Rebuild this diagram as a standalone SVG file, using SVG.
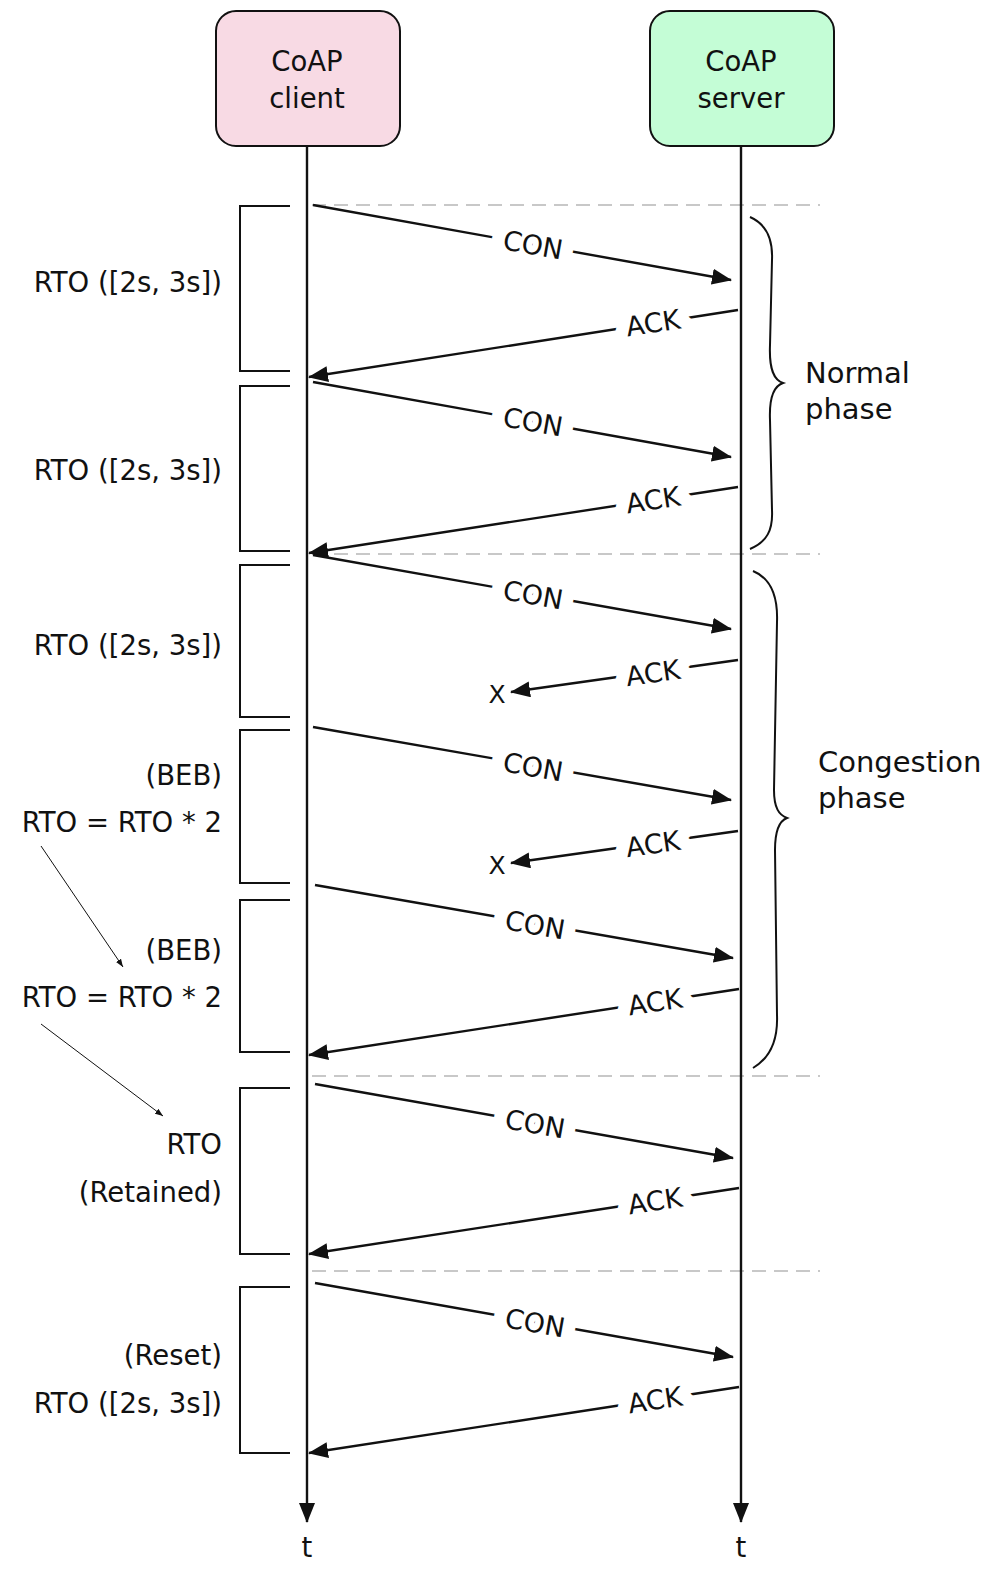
<svg xmlns="http://www.w3.org/2000/svg" width="999" height="1570" viewBox="0 0 999 1570">
<defs>
<style>
text{font-family:"DejaVu Sans","Liberation Sans",sans-serif;fill:#111;font-size:27.5px}
.box{stroke:#111;stroke-width:2}
.life{stroke:#111;stroke-width:2.4;fill:none}
.msg{stroke:#111;stroke-width:2.4;fill:none}
.thin{stroke:#111;stroke-width:1;fill:none}
.dash{stroke:#c8c8c8;stroke-width:2;stroke-dasharray:14 8;fill:none}
.brk{stroke:#111;stroke-width:2;fill:none}
.lbl{text-anchor:middle;dominant-baseline:central;stroke:#fff;stroke-width:26;stroke-linejoin:round;paint-order:stroke;font-size:27px}
.ph{font-size:29px}
.r{text-anchor:end}
.c{text-anchor:middle}
</style>
<marker id="ah" viewBox="0 0 20 16" markerWidth="20" markerHeight="16" refX="19" refY="8" orient="auto" markerUnits="userSpaceOnUse"><path d="M0,0 L20,8 L0,16 Z" fill="#111"/></marker>
<marker id="ahs" viewBox="0 0 8 6" markerWidth="8" markerHeight="6" refX="8" refY="3" orient="auto" markerUnits="userSpaceOnUse"><path d="M0,0 L8,3 L0,6 Z" fill="#111"/></marker>
</defs>
<rect width="999" height="1570" fill="#fff"/>

<g id="client">
<rect class="box" x="216" y="11" width="184" height="135" rx="20" fill="#f8dae4"/>
<text class="c" x="307" y="71">CoAP</text>
<text class="c" x="307" y="108">client</text>
</g>
<g id="server">
<rect class="box" x="650" y="11" width="184" height="135" rx="20" fill="#c4fdd6"/>
<text class="c" x="741" y="71">CoAP</text>
<text class="c" x="741" y="108">server</text>
</g>

<g id="separators">
<line class="dash" x1="312" y1="205" x2="820" y2="205"/>
<line class="dash" x1="312" y1="554" x2="820" y2="554"/>
<line class="dash" x1="312" y1="1076" x2="820" y2="1076"/>
<line class="dash" x1="312" y1="1271" x2="820" y2="1271"/>
</g>

<g id="lifelines">
<line class="life" x1="307" y1="146" x2="307" y2="1522" marker-end="url(#ah)"/>
<line class="life" x1="741" y1="146" x2="741" y2="1522" marker-end="url(#ah)"/>
<text class="c" x="307" y="1557">t</text>
<text class="c" x="741" y="1557">t</text>
</g>

<g id="connectors">
<line class="msg" x1="313" y1="205" x2="731" y2="280" marker-end="url(#ah)"/>
<line class="msg" x1="738" y1="310" x2="309" y2="377" marker-end="url(#ah)"/>
<line class="msg" x1="313" y1="382" x2="731" y2="457" marker-end="url(#ah)"/>
<line class="msg" x1="738" y1="487" x2="309" y2="553" marker-end="url(#ah)"/>
<line class="msg" x1="313" y1="555" x2="731" y2="629" marker-end="url(#ah)"/>
<line class="msg" x1="738" y1="660" x2="511" y2="692" marker-end="url(#ah)"/>
<line class="msg" x1="313" y1="727" x2="731" y2="800" marker-end="url(#ah)"/>
<line class="msg" x1="738" y1="831" x2="511" y2="863" marker-end="url(#ah)"/>
<line class="msg" x1="315" y1="885" x2="733" y2="958" marker-end="url(#ah)"/>
<line class="msg" x1="739" y1="989" x2="309" y2="1055" marker-end="url(#ah)"/>
<line class="msg" x1="315" y1="1084" x2="733" y2="1158" marker-end="url(#ah)"/>
<line class="msg" x1="739" y1="1188" x2="309" y2="1254" marker-end="url(#ah)"/>
<line class="msg" x1="315" y1="1283" x2="733" y2="1357" marker-end="url(#ah)"/>
<line class="msg" x1="739" y1="1387" x2="309" y2="1453" marker-end="url(#ah)"/>

<text class="lbl" transform="translate(533,245) rotate(10.2)">CON</text>
<text class="lbl" transform="translate(653,323) rotate(-8.9)">ACK</text>
<text class="lbl" transform="translate(533,422) rotate(10.2)">CON</text>
<text class="lbl" transform="translate(653,500) rotate(-8.9)">ACK</text>
<text class="lbl" transform="translate(533,595) rotate(10.1)">CON</text>
<text class="lbl" transform="translate(653,673) rotate(-8.2)">ACK</text>
<text class="lbl" transform="translate(533,767) rotate(10)">CON</text>
<text class="lbl" transform="translate(653,844) rotate(-8.2)">ACK</text>
<text class="lbl" transform="translate(535,925) rotate(10)">CON</text>
<text class="lbl" transform="translate(655,1002) rotate(-8.8)">ACK</text>
<text class="lbl" transform="translate(535,1124) rotate(10.1)">CON</text>
<text class="lbl" transform="translate(655,1201) rotate(-8.8)">ACK</text>
<text class="lbl" transform="translate(535,1323) rotate(10.1)">CON</text>
<text class="lbl" transform="translate(655,1400) rotate(-8.8)">ACK</text>

<text class="c" x="497" y="703" style="font-size:25px">X</text>
<text class="c" x="497" y="874" style="font-size:25px">X</text>

<line class="thin" x1="41" y1="846" x2="123" y2="967" marker-end="url(#ahs)"/>
<line class="thin" x1="41" y1="1024" x2="163" y2="1116" marker-end="url(#ahs)"/>
</g>

<g id="timers">
<path class="brk" d="M290,206 H240 V371 H290"/>
<path class="brk" d="M290,386 H240 V551 H290"/>
<path class="brk" d="M290,565 H240 V717 H290"/>
<path class="brk" d="M290,730 H240 V883 H290"/>
<path class="brk" d="M290,900 H240 V1052 H290"/>
<path class="brk" d="M290,1088 H240 V1254 H290"/>
<path class="brk" d="M290,1287 H240 V1453 H290"/>
<text class="r" x="222" y="292">RTO ([2s, 3s])</text>
<text class="r" x="222" y="480">RTO ([2s, 3s])</text>
<text class="r" x="222" y="655">RTO ([2s, 3s])</text>
<text class="r" x="222" y="785">(BEB)</text>
<text class="r" x="222" y="832">RTO = RTO * 2</text>
<text class="r" x="222" y="960">(BEB)</text>
<text class="r" x="222" y="1007">RTO = RTO * 2</text>
<text class="r" x="222" y="1154">RTO</text>
<text class="r" x="222" y="1202">(Retained)</text>
<text class="r" x="222" y="1365">(Reset)</text>
<text class="r" x="222" y="1413">RTO ([2s, 3s])</text>
</g>

<g id="normal-phase">
<path class="brk" d="M750,217 C766,224 773,238 772,260 L770,345 C769,370 774,380 783,383 C774,386 769,396 770,420 L772,510 C773,530 767,542 750,549"/>
<text class="ph" x="805" y="383">Normal</text>
<text class="ph" x="805" y="419">phase</text>
</g>
<g id="congestion-phase">
<path class="brk" d="M753,571 C770,578 778,596 777,622 L774,790 C774,808 779,815 787,818 C779,821 775,830 775,850 L777,1015 C778,1040 770,1058 753,1068"/>
<text class="ph" x="818" y="772">Congestion</text>
<text class="ph" x="818" y="808">phase</text>
</g>
</svg>
